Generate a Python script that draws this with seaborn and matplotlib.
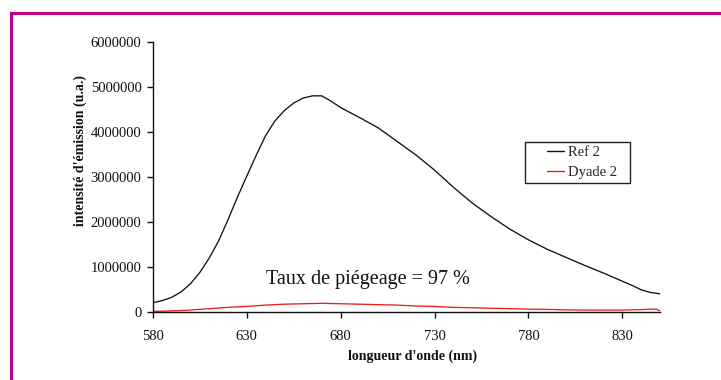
import matplotlib
matplotlib.use("Agg")
import matplotlib.pyplot as plt
from matplotlib.lines import Line2D
from matplotlib.patches import Rectangle
import seaborn as sns
import pandas as pd

# ---- data ----
ref_nm = [580, 585, 590, 595, 600, 605, 610, 615, 620, 625, 630, 635, 640, 645,
          650, 655, 660, 665, 670, 675, 680, 690, 700, 710, 720, 730, 740, 750,
          760, 770, 780, 790, 800, 810, 820, 830, 835, 840, 845, 850]
ref_val = [210000, 260000, 330000, 450000, 630000, 880000, 1200000, 1580000,
           2050000, 2550000, 3020000, 3480000, 3920000, 4250000, 4480000,
           4650000, 4760000, 4810000, 4810000, 4690000, 4550000, 4330000,
           4100000, 3800000, 3500000, 3160000, 2780000, 2430000, 2130000,
           1850000, 1610000, 1400000, 1220000, 1040000, 870000, 690000,
           600000, 500000, 440000, 410000]
dy_nm = [580, 590, 600, 610, 620, 630, 640, 650, 660, 670, 680, 690, 700, 710,
         720, 730, 740, 750, 760, 770, 780, 790, 800, 810, 820, 830, 840, 845,
         848, 850]
dy_val = [20000, 30000, 50000, 80000, 110000, 130000, 160000, 180000, 190000,
          200000, 190000, 180000, 170000, 160000, 140000, 130000, 110000,
          100000, 90000, 80000, 70000, 65000, 55000, 50000, 50000, 50000,
          60000, 70000, 70000, 30000]
series_names = ["Ref 2", "Dyade 2"]
x_ticks = [580, 630, 680, 730, 780, 830]
y_ticks = [0, 1000000, 2000000, 3000000, 4000000, 5000000, 6000000]
xlabel = "longueur d'onde (nm)"
ylabel = "intensité d'émission (u.a.)"
annotation = "Taux de piégeage = 97 %"

df = pd.concat([
    pd.DataFrame({"nm": ref_nm, "val": ref_val, "serie": series_names[0]}),
    pd.DataFrame({"nm": dy_nm, "val": dy_val, "serie": series_names[1]}),
])

sns.set_style("ticks")
plt.rcParams["font.family"] = ["Liberation Serif", "DejaVu Serif"]

W, H = 721, 380
fig = plt.figure(figsize=(W / 100, H / 100), dpi=100)
ax = fig.add_axes([152.7 / W, 1 - 312.3 / H, (660 - 152.7) / W, 270 / H])

sns.lineplot(data=df, x="nm", y="val", hue="serie",
             palette={"Ref 2": "#111111", "Dyade 2": "#ee1c1c"},
             linewidth=0.95, ax=ax, legend=False, sort=False)

ax.set_xlim(580, 850)
ax.set_ylim(0, 6000000)
ax.set_xticks(x_ticks)
ax.set_yticks(y_ticks)
ax.set_xticklabels([str(v) for v in x_ticks], fontsize=10.5)
ax.set_yticklabels([str(v) for v in y_ticks], fontsize=10.5)
ax.tick_params(axis="y", length=4, width=1, pad=4, colors="#111111")
ax.tick_params(axis="x", length=4, width=1, pad=9, colors="#111111")
for s in ["top", "right"]:
    ax.spines[s].set_visible(False)
for s in ["left", "bottom"]:
    ax.spines[s].set_linewidth(1)
    ax.spines[s].set_color("#111111")
ax.set_xlabel("")
ax.set_ylabel("")

fig.text(413 / W, 1 - 356 / H, xlabel, ha="center", va="center",
         fontsize=10, fontweight="bold", color="#111111")
fig.text(80 / W, 1 - 150 / H, ylabel, ha="center", va="center",
         rotation=90, fontsize=10, fontweight="bold", color="#111111")

ax.text((266 - 152.7) / 507.3, (312.3 - 284) / 270, annotation,
        transform=ax.transAxes, ha="left", va="baseline", fontsize=14.5,
        color="#111111")

# legend (manual frame)
fig.patches.append(Rectangle((525 / W, 1 - 182.7 / H), 105 / W, 41 / H,
                             transform=fig.transFigure, fill=False,
                             edgecolor="#222222", linewidth=1))
handles = [Line2D([], [], color="#111111", linewidth=1.0),
           Line2D([], [], color="#ee1c1c", linewidth=1.0)]
fig.legend(handles, series_names, loc="upper left",
           bbox_to_anchor=(546.7 / W, 1 - 146 / H), frameon=False,
           fontsize=10.5, handlelength=1.2, handletextpad=0.25,
           borderpad=0, borderaxespad=0, labelspacing=0.45)

# magenta frame
mag = "#c4008a"
fig.lines.append(Line2D([10.5 / W, 10.5 / W], [0, 1 - 12.5 / H],
                        transform=fig.transFigure, color=mag, linewidth=2.2,
                        solid_capstyle="projecting"))
fig.lines.append(Line2D([10.5 / W, 1], [1 - 12.5 / H, 1 - 12.5 / H],
                        transform=fig.transFigure, color=mag, linewidth=2.2,
                        solid_capstyle="projecting"))

fig.savefig("out.png", dpi=100)
